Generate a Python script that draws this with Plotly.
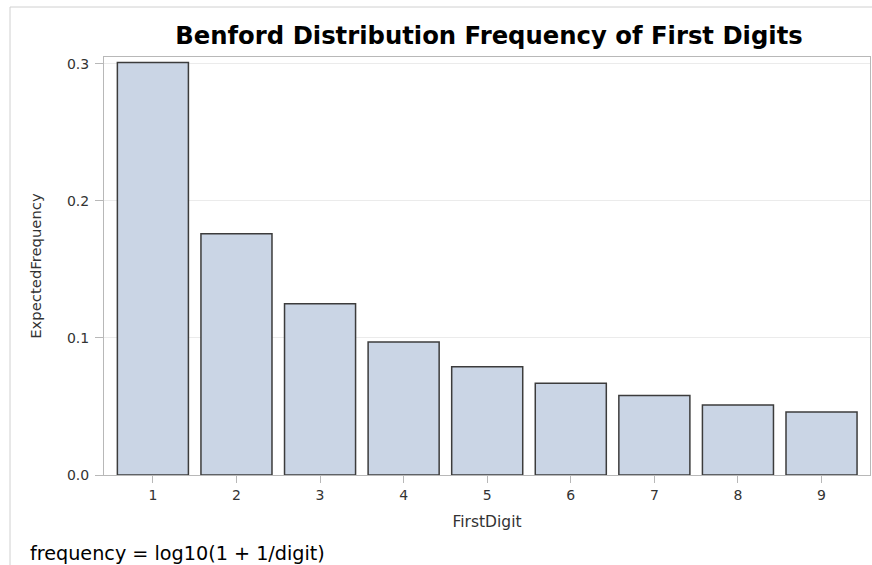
import plotly.graph_objects as go

digits = [1, 2, 3, 4, 5, 6, 7, 8, 9]
expected_freq = [0.301, 0.176, 0.125, 0.097, 0.079, 0.067, 0.058, 0.051, 0.046]
y_ticks = [0.0, 0.1, 0.2, 0.3]
y_tick_labels = ["0.0", "0.1", "0.2", "0.3"]

FONT = "DejaVu Sans"

fig = go.Figure(go.Bar(
    x=digits, y=expected_freq, width=0.85,
    marker=dict(color="#CAD5E5", line=dict(color="#3c3c3c", width=1.5)),
))

PW, PH = 766, 418  # plot area size in px

fig.update_layout(
    width=872, height=565,
    margin=dict(l=104, r=2, t=57, b=90),
    paper_bgcolor="white", plot_bgcolor="white",
    showlegend=False,
    title=dict(text="<b>Benford Distribution Frequency of First Digits</b>",
               x=489 / 872, xanchor="center", y=1 - 35 / 565, yanchor="middle",
               font=dict(family=FONT, size=24.3, color="black")),
    xaxis=dict(range=[0.415, 9.58], tickvals=digits, ticktext=[str(d) for d in digits],
               ticks="outside", ticklen=7, tickcolor="#b8b8b8", showgrid=False,
               showline=True, linecolor="#b8b8b8", mirror=True, zeroline=False,
               tickfont=dict(family=FONT, size=14, color="#333"),
               title=dict(text="FirstDigit", standoff=14,
                          font=dict(family=FONT, size=15.5, color="#333"))),
    yaxis=dict(range=[0, 0.305], tickvals=y_ticks, ticktext=y_tick_labels,
               ticks="outside", ticklen=8, tickcolor="#b8b8b8", ticklabelstandoff=3,
               showgrid=True, gridcolor="#ebebeb", gridwidth=1,
               showline=True, linecolor="#b8b8b8", mirror=True, zeroline=False,
               tickfont=dict(family=FONT, size=14, color="#333"),
               title=dict(text="ExpectedFrequency", standoff=21,
                          font=dict(family=FONT, size=14.8, color="#333"))),
    shapes=[dict(type="rect", xref="paper", yref="paper",
                 x0=(10 - 104) / PW, x1=1.05, y0=-0.3, y1=1 + 50 / PH,
                 line=dict(color="#d0d0d0", width=1), layer="below")],
    annotations=[dict(text="frequency = log10(1 + 1/digit)", xref="paper", yref="paper",
                      x=(28 - 104) / PW, y=-(553 - 475) / PH, xanchor="left", yanchor="middle",
                      showarrow=False,
                      font=dict(family=FONT, size=19.2, color="black"))],
)

fig.write_html("out.html", config={"displayModeBar": False},
               post_script="document.body.style.margin='0';document.body.style.overflow='hidden';")
